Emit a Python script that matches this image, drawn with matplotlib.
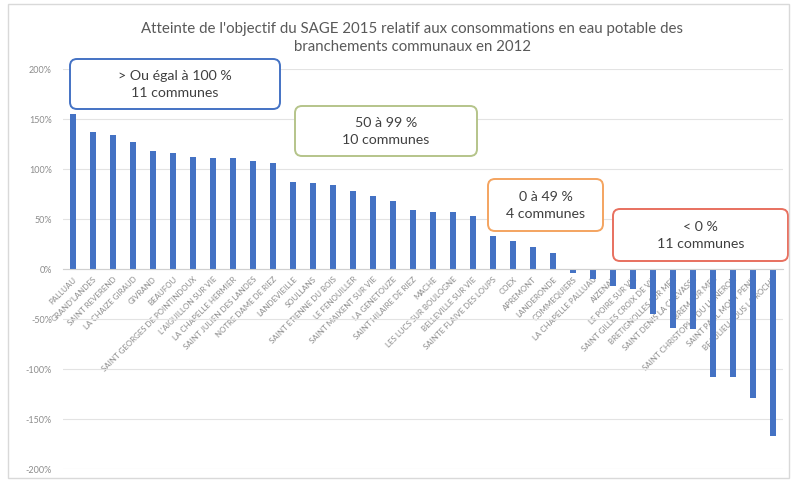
import matplotlib
matplotlib.use("Agg")
import matplotlib.pyplot as plt
from matplotlib.patches import FancyBboxPatch, Rectangle
from matplotlib.ticker import FuncFormatter, MultipleLocator
import numpy as np

plt.rcParams["font.family"] = ["Lato", "DejaVu Sans"]

# ---------------------------------------------------------------------------
# Data
# ---------------------------------------------------------------------------

COMMUNES = [
    "PALLUAU", "GRAND'LANDES", "SAINT REVEREND", "LA CHAIZE GIRAUD",
    "GIVRAND", "BEAUFOU", "SAINT GEORGES DE POINTINDOUX",
    "L'AIGUILLON SUR VIE", "LA CHAPELLE HERMIER", "SAINT JULIEN DES LANDES",
    "NOTRE DAME DE RIEZ", "LANDEVIEILLE", "SOULLANS",
    "SAINT ETIENNE DU BOIS", "LE FENOUILLER", "SAINT MAIXENT SUR VIE",
    "LA GENETOUZE", "SAINT HILAIRE DE RIEZ", "MACHE",
    "LES LUCS SUR BOULOGNE", "BELLEVILLE SUR VIE", "SAINTE FLAIVE DES LOUPS",
    "COEX", "APREMONT", "LANDERONDE", "COMMEQUIERS", "LA CHAPELLE PALLUAU",
    "AIZENAY", "LE POIRE SUR VIE", "SAINT GILLES CROIX DE VIE",
    "BRETIGNOLLES SUR MER", "SAINT DENIS LA CHEVASSE", "BREM SUR MER",
    "SAINT CHRISTOPHE DU LIGNERON", "SAINT PAUL MONT PENIT",
    "BEAULIEU SOUS LA ROCHE",
]

# taux d'atteinte de l'objectif (%)
TAUX = [
    155, 137, 134, 127, 118, 116, 112, 111, 111, 108, 106,
    87, 86, 84, 78, 73, 68, 59, 57, 57, 53,
    33, 28, 22, 16,
    -4, -10, -17, -20, -45, -59, -60, -108, -108, -129, -167,
]

GROUP_LINES = [
    ("> Ou égal à 100 %", "11 communes"),
    ("50 à 99 %", "10 communes"),
    ("0 à 49 %", "4 communes"),
    ("< 0 %", "11 communes"),
]
GROUP_COLORS = ["#4472C4", "#B5C48A", "#F4A460", "#E8705F"]

# box extents (x in category units, y in %)
GROUP_BOXES = [
    (-0.15, 10.35, 160, 210),
    (11.1, 20.2, 113, 163),
    (20.75, 26.5, 38, 90),
    (27.0, 35.75, 8, 60),
]

TITLE = ("Atteinte de l'objectif du SAGE 2015 relatif aux consommations "
         "en eau potable des\nbranchements communaux en 2012")

# ---------------------------------------------------------------------------
# Figure
# ---------------------------------------------------------------------------

W, H = 791, 481
fig = plt.figure(figsize=(W / 100, H / 100), dpi=100)
ax = fig.add_axes([63 / W, 11 / H, 720 / W, 400 / H])

x = np.arange(len(COMMUNES))
ax.bar(x, TAUX, width=0.3, color="#4472C4", zorder=2)

ax.set_xlim(-0.5, len(COMMUNES) - 0.5)
ax.set_ylim(-200, 200)
ax.yaxis.set_major_locator(MultipleLocator(50))
ax.yaxis.set_major_formatter(FuncFormatter(lambda v, _: f"{v:.0f}%"))
ax.tick_params(axis="y", length=0, labelsize=6.5, labelcolor="#8C8C8C", pad=8)
ax.grid(axis="y", color="#E3E3E3", linewidth=0.8)
ax.set_axisbelow(True)

ax.spines["bottom"].set_position(("data", 0))
ax.spines["bottom"].set_color("#D0D0D0")
for side in ("top", "left", "right"):
    ax.spines[side].set_visible(False)

ax.set_xticks(x)
ax.set_xticklabels(COMMUNES, rotation=45, ha="right", va="top",
                   rotation_mode="anchor", fontsize=5.7, color="#8A8A8A")
ax.tick_params(axis="x", length=0, pad=4)

for (l1, l2), col, (x0, x1, y0, y1) in zip(GROUP_LINES, GROUP_COLORS, GROUP_BOXES):
    box = FancyBboxPatch((x0, y0), x1 - x0, y1 - y0,
                         boxstyle="round,pad=0,rounding_size=0.35",
                         mutation_aspect=20, facecolor="white",
                         edgecolor=col, linewidth=1.4, zorder=5, clip_on=False)
    ax.add_patch(box)
    ax.text((x0 + x1) / 2, (y0 + y1) / 2, f"{l1}\n{l2}", ha="center",
            va="center", fontsize=10.2, color="#404040", linespacing=1.5,
            zorder=6)

fig.text(412 / W, 1 - 38 / H, TITLE, ha="center", va="center",
         fontsize=10.8, color="#595959", linespacing=1.45)

fig.patches.append(Rectangle((8 / W, 2 / H), 781 / W, 474 / H,
                             transform=fig.transFigure, fill=False,
                             edgecolor="#D9D9D9", linewidth=1))

fig.savefig("out.png", dpi=100)
